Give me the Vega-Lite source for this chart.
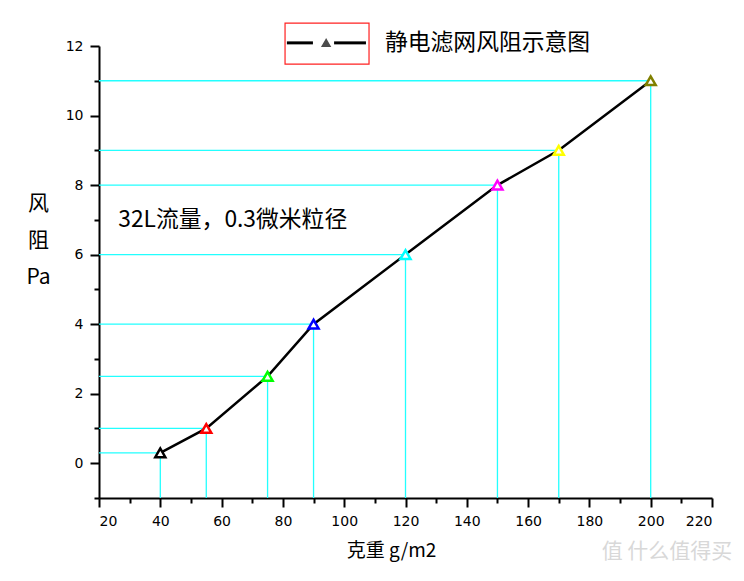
{
  "$schema": "https://vega.github.io/schema/vega-lite/v6.json",
  "autosize": "none",
  "width": 613,
  "height": 452,
  "padding": {"left": 99, "top": 46, "right": 32, "bottom": 83},
  "background": "white",
  "config": {
    "view": {"stroke": null},
    "font": "DejaVu Sans",
    "axis": {"grid": false, "domainColor": "#000", "tickColor": "#000", "labelColor": "#000", "titleColor": "#000", "domainWidth": 2, "tickWidth": 2, "labelFontSize": 14, "labelFont": "DejaVu Sans", "titleFont": "Noto Sans CJK SC", "titleFontWeight": "normal", "titleFontSize": 21}
  },
  "data": {"values": [
    {"w": 40, "p": 0.3, "c": "a"},
    {"w": 55, "p": 1, "c": "b"},
    {"w": 75, "p": 2.5, "c": "c"},
    {"w": 90, "p": 4, "c": "d"},
    {"w": 120, "p": 6, "c": "e"},
    {"w": 150, "p": 8, "c": "f"},
    {"w": 170, "p": 9, "c": "g"},
    {"w": 200, "p": 11, "c": "h"}
  ]},
  "resolve": {"axis": {"x": "independent", "y": "independent"}},
  "layer": [
    {
      "mark": {"type": "rule", "color": "#22ffff", "strokeWidth": 1.3},
      "encoding": {
        "x": {"field": "w", "type": "quantitative", "scale": {"domain": [20, 220], "nice": false, "zero": false},
              "axis": {"values": [20, 40, 60, 80, 100, 120, 140, 160, 180, 200, 220], "tickSize": 9, "labelPadding": 7, "labelFontSize": 14, "title": "克重 g/m2", "titleFontSize": 19, "titleX": 292, "titleAlign": "center", "titlePadding": 13, "orient": "bottom"}},
        "x2": {"datum": 20},
        "y": {"field": "p", "type": "quantitative", "scale": {"domain": [-1, 12], "nice": false, "zero": false},
              "axis": {"values": [0, 2, 4, 6, 8, 10, 12], "tickSize": 9, "labelPadding": 7, "labelFontSize": 14, "orient": "left",
                       "title": ["风", "阻", "Pa"], "titleAngle": 0, "titleAlign": "center", "titleBaseline": "top", "titleX": -61, "titleY": 146, "titleLineHeight": 37}}
      }
    },
    {
      "mark": {"type": "rule", "color": "#22ffff", "strokeWidth": 1.3},
      "encoding": {
        "x": {"field": "w", "type": "quantitative",
              "axis": {"values": [30, 50, 70, 90, 110, 130, 150, 170, 190, 210], "labels": false, "domain": false, "tickSize": 5, "title": null, "orient": "bottom"}},
        "y": {"field": "p", "type": "quantitative",
              "axis": {"values": [-1, 1, 3, 5, 7, 9, 11], "labels": false, "domain": false, "tickSize": 5, "title": null, "orient": "left"}},
        "y2": {"datum": -1}
      }
    },
    {
      "mark": {"type": "line", "color": "#000", "strokeWidth": 2.5},
      "encoding": {
        "x": {"field": "w", "type": "quantitative", "axis": null},
        "y": {"field": "p", "type": "quantitative", "axis": null}
      }
    },
    {
      "mark": {"type": "point", "shape": "triangle-up", "filled": true, "fill": "white", "size": 100, "strokeWidth": 2.5, "opacity": 1},
      "encoding": {
        "x": {"field": "w", "type": "quantitative", "axis": null},
        "y": {"field": "p", "type": "quantitative", "axis": null},
        "stroke": {"field": "c", "type": "nominal", "legend": null,
                   "scale": {"domain": ["a","b","c","d","e","f","g","h"], "range": ["#000000","#ff0000","#00ff00","#0000ff","#00ffff","#ff00ff","#ffff00","#808000"]}}
      }
    },
    {
      "data": {"values": [{"t": "32L流量，0.3微米粒径"}]},
      "mark": {"type": "text", "align": "left", "baseline": "middle", "font": "Noto Sans CJK SC", "fontSize": 22.8, "color": "#000"},
      "encoding": {
        "x": {"datum": 26.3, "type": "quantitative", "axis": null},
        "y": {"datum": 7.0, "type": "quantitative", "axis": null},
        "text": {"field": "t"}
      }
    },
    {
      "data": {"values": [{"t": "静电滤网风阻示意图"}]},
      "mark": {"type": "text", "align": "left", "baseline": "middle", "font": "Noto Sans CJK SC", "fontSize": 22.8, "color": "#000"},
      "encoding": {
        "x": {"datum": 113.3, "type": "quantitative", "axis": null},
        "y": {"datum": 12.09, "type": "quantitative", "axis": null},
        "text": {"field": "t"}
      }
    },
    {
      "data": {"values": [{"a": 80.7, "b": 108.1, "u": 12.66, "v": 11.48}]},
      "mark": {"type": "rect", "filled": false, "stroke": "#ff2020", "strokeWidth": 1.2},
      "encoding": {
        "x": {"field": "a", "type": "quantitative", "axis": null},
        "x2": {"field": "b"},
        "y": {"field": "u", "type": "quantitative", "axis": null},
        "y2": {"field": "v"}
      }
    },
    {
      "data": {"values": [{"a": 81.3, "b": 89.8}, {"a": 96.7, "b": 107.1}]},
      "mark": {"type": "rule", "color": "#000", "strokeWidth": 3},
      "encoding": {
        "x": {"field": "a", "type": "quantitative", "axis": null},
        "x2": {"field": "b"},
        "y": {"datum": 12.09, "type": "quantitative", "axis": null}
      }
    },
    {
      "data": {"values": [{"t": "▲"}]},
      "mark": {"type": "point", "shape": "triangle-up", "filled": true, "fill": "#000", "stroke": "#000", "size": 60, "strokeWidth": 1.5},
      "encoding": {
        "x": {"datum": 94.1, "type": "quantitative", "axis": null},
        "y": {"datum": 12.09, "type": "quantitative", "axis": null}
      }
    },
    {
      "data": {"values": [{"t": "值 什么值得买"}]},
      "mark": {"type": "text", "align": "left", "baseline": "middle", "font": "Noto Sans CJK SC", "fontSize": 21, "color": "#d8d8d8"},
      "encoding": {
        "x": {"datum": 184, "type": "quantitative", "axis": null},
        "y": {"datum": -2.55, "type": "quantitative", "axis": null},
        "text": {"field": "t"}
      }
    }
  ]
}
